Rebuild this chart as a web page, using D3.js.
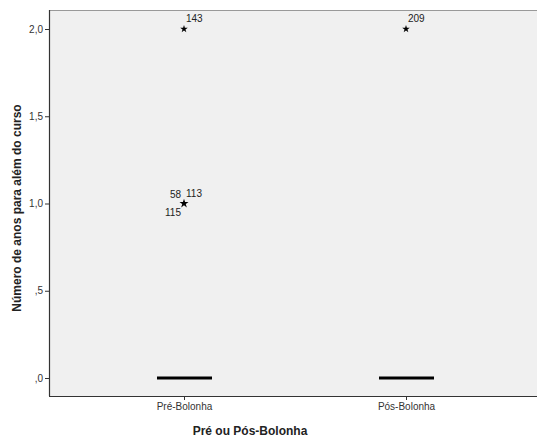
<!DOCTYPE html>
<html><head><meta charset="utf-8">
<script src="https://cdn.jsdelivr.net/npm/d3@7"></script>
<style>body{margin:0;background:#fff}svg{display:block}text{font-family:"Liberation Sans",Arial,sans-serif}</style>
</head><body><svg id="c" width="537" height="439"></svg>
<script>
const categories = ["Pré-Bolonha", "Pós-Bolonha"];
const medians = [0, 0];
const q1 = [0, 0];
const q3 = [0, 0];
const outlierCat = ["Pré-Bolonha", "Pré-Bolonha", "Pré-Bolonha", "Pré-Bolonha", "Pós-Bolonha"];
const outlierVal = [2, 1, 1, 1, 2];
const outlierId = ["143", "58", "113", "115", "209"];
const outlierPos = ["tr", "tl", "tr", "bl", "tr"];
const yTicks = [0, 0.5, 1, 1.5, 2];
const yTickLabels = [",0", ",5", "1,0", "1,5", "2,0"];

const svg = d3.select("#c");
const L = 49, R = 537, T = 10, B = 396;
const y = d3.scaleLinear().domain([0, 2]).range([378, 29]);
const x = d3.scalePoint().domain(categories).range([184, 406]);

svg.append("rect").attr("x", L).attr("y", T).attr("width", R - L).attr("height", B - T).attr("fill", "#f0f0f0");
svg.append("line").attr("x1", L).attr("x2", R).attr("y1", T + 0.5).attr("y2", T + 0.5).attr("stroke", "#999").attr("stroke-width", 1);
svg.append("line").attr("x1", L).attr("x2", R).attr("y1", B + 0.5).attr("y2", B + 0.5).attr("stroke", "#333").attr("stroke-width", 1.2);
svg.append("line").attr("x1", L + 0.5).attr("x2", L + 0.5).attr("y1", T).attr("y2", B).attr("stroke", "#333").attr("stroke-width", 1.2);

// y axis
const yAxis = d3.axisLeft(y).tickValues(yTicks).tickFormat((d, i) => yTickLabels[i]).tickSize(4).tickPadding(2);
const gy = svg.append("g").attr("transform", `translate(${L},0)`).call(yAxis);
gy.select(".domain").remove();
gy.selectAll("line").attr("stroke", "#333");
gy.selectAll("text").attr("font-size", 10).attr("fill", "#333");

// x axis
const xAxis = d3.axisBottom(x).tickSize(4).tickPadding(3);
const gx = svg.append("g").attr("transform", `translate(0,${B})`).call(xAxis);
gx.select(".domain").remove();
gx.selectAll("line").attr("stroke", "#333");
gx.selectAll("text").attr("font-size", 10).attr("fill", "#333");

// medians
svg.selectAll(".med").data(categories).enter().append("line")
  .attr("x1", d => x(d) - 27).attr("x2", d => x(d) + 28)
  .attr("y1", (d, i) => y(medians[i])).attr("y2", (d, i) => y(medians[i]))
  .attr("stroke", "#000").attr("stroke-width", 3);

// outliers (extreme: star)
const pts = outlierVal.map((v, i) => ({c: outlierCat[i], v, id: outlierId[i], p: outlierPos[i]}));
const seen = new Set();
pts.forEach(d => {
  const key = d.c + d.v;
  const px = x(d.c), py = y(d.v);
  if (!seen.has(key)) {
    seen.add(key);
    const sz = d.v === 1 ? 26 : 18;
    svg.append("path").attr("d", d3.symbol().type(d3.symbolStar).size(sz)()).attr("transform", `translate(${px},${py})`).attr("fill", "#000");
  }
  let tx = px, ty = py, anchor = "start";
  if (d.p === "tr") { tx = px + 2; ty = py - 7; }
  if (d.p === "tl") { tx = px - 3; ty = py - 6; anchor = "end"; }
  if (d.p === "bl") { tx = px - 3; ty = py + 12; anchor = "end"; }
  svg.append("text").attr("x", tx).attr("y", ty).attr("text-anchor", anchor)
    .attr("font-size", 10).attr("fill", "#222").text(d.id);
});

svg.append("text").attr("x", 250).attr("y", 435).attr("text-anchor", "middle")
  .attr("font-size", 12).attr("font-weight", "bold").attr("fill", "#222").text("Pré ou Pós-Bolonha");
svg.append("text").attr("transform", "translate(21,208) rotate(-90)").attr("text-anchor", "middle")
  .attr("font-size", 12).attr("font-weight", "bold").attr("fill", "#222").text("Número de anos para além do curso");
</script></body></html>
